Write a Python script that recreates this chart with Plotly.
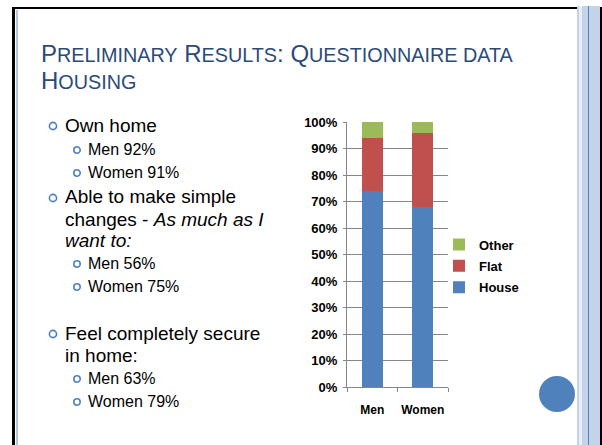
import plotly.graph_objects as go

W, H = 602, 445

# ---- data ----
categories = ["Men", "Women"]
house = [74, 68]
flat = [20, 28]
other = [6, 4]
series_names = ["House", "Flat", "Other"]
series_colors = ["#4F81BD", "#C0504D", "#9BBB59"]
legend_ranks = [3, 2, 1]
y_tick_vals = [0, 10, 20, 30, 40, 50, 60, 70, 80, 90, 100]
y_tick_text = ["0%", "10%", "20%", "30%", "40%", "50%", "60%", "70%", "80%", "90%", "100%"]

SC = "<span style='font-size:19.8px'>%s</span>"
title_lines = [
    "P" + SC % "RELIMINARY" + " R" + SC % "ESULTS" + ": Q" + SC % "UESTIONNAIRE DATA",
    "H" + SC % "OUSING",
]
bullets = [
    (1, "Own home", 125),
    (2, "Men 92%", 149),
    (2, "Women 91%", 172),
    (1, "Able to make simple", 197),
    (0, "changes - <i>As much as I</i>", 219),
    (0, "<i>want to:</i>", 240),
    (2, "Men 56%", 263),
    (2, "Women 75%", 286),
    (1, "Feel completely secure", 333),
    (0, "in home:", 355),
    (2, "Men 63%", 378),
    (2, "Women 79%", 401),
]


def px(x):
    return x / W


def py(y):
    return 1 - y / H


FONT = "Liberation Sans, Arial, sans-serif"

fig = go.Figure()
for name, vals, col, rk in zip(series_names, [house, flat, other], series_colors, legend_ranks):
    fig.add_trace(go.Bar(x=categories, y=vals, name=name, marker_color=col,
                         marker_line_width=0, legendgroup=name, legendrank=rk))

grid = "#868686"
fig.update_layout(
    width=W, height=H,
    margin=dict(l=0, r=0, t=0, b=0, pad=0, autoexpand=False),
    paper_bgcolor="white", plot_bgcolor="white",
    barmode="stack", bargap=0.58,
    font=dict(family=FONT, color="black"),
    xaxis=dict(domain=[px(347), px(448)], showline=True, linecolor=grid, linewidth=1,
               ticks="outside", tickson="boundaries", ticklen=4, tickcolor=grid,
               tickangle=0, ticklabelstandoff=12, automargin=False,
               tickfont=dict(size=12, color="black", weight="bold"), showgrid=False,
               fixedrange=True),
    yaxis=dict(domain=[py(387), py(122)], range=[0, 100], tickmode="array",
               tickvals=y_tick_vals, ticktext=y_tick_text, automargin=False,
               showline=True, linecolor=grid, linewidth=1,
               showgrid=True, gridcolor=grid, gridwidth=1,
               ticks="outside", ticklen=3, tickcolor=grid, ticklabelstandoff=3,
               tickfont=dict(size=13, color="black", weight="bold"), zeroline=False,
               fixedrange=True),
    legend=dict(x=px(439), y=py(229.5), xanchor="left", yanchor="top",
                traceorder="grouped", tracegroupgap=1.5,
                font=dict(size=13, color="black", weight="bold"), bgcolor="rgba(0,0,0,0)"),
    showlegend=True,
)

shapes = []
# slide frame
shapes.append(dict(type="line", xref="paper", yref="paper", x0=px(12), x1=px(601), y0=py(8), y1=py(8),
                   line=dict(color="black", width=2)))
shapes.append(dict(type="line", xref="paper", yref="paper", x0=px(13.5), x1=px(13.5), y0=py(7), y1=py(445),
                   line=dict(color="black", width=3)))
shapes.append(dict(type="line", xref="paper", yref="paper", x0=px(17), x1=px(17), y0=py(10), y1=py(445),
                   line=dict(color="#B3C6E3", width=2)))
shapes.append(dict(type="rect", xref="paper", yref="paper", x0=px(577), x1=px(600), y0=py(6), y1=py(445),
                   fillcolor="#C5D3E9", line=dict(width=0)))
shapes.append(dict(type="rect", xref="paper", yref="paper", x0=px(579), x1=px(582), y0=py(6), y1=py(445),
                   fillcolor="#E8EEF7", line=dict(width=0)))
shapes.append(dict(type="line", xref="paper", yref="paper", x0=px(588.5), x1=px(588.5), y0=py(6), y1=py(445),
                   line=dict(color="#4F81BD", width=1)))
shapes.append(dict(type="line", xref="paper", yref="paper", x0=px(601), x1=px(601), y0=py(7), y1=py(445),
                   line=dict(color="black", width=2)))
# decorative circle
shapes.append(dict(type="circle", xref="paper", yref="paper", x0=px(539), x1=px(575), y0=py(376), y1=py(412),
                   fillcolor="#4F81BD", line=dict(width=0)))

annotations = []
# title
for i, t in enumerate(title_lines):
    annotations.append(dict(text=t, xref="paper", yref="paper", x=px(39), y=py(53 + 28 * i),
                            xanchor="left", yanchor="middle", showarrow=False,
                            font=dict(family=FONT, size=24, color="#2B4A7A")))
# bullets
for lvl, t, yc in bullets:
    if lvl == 2:
        cx, r, tx, fs = 77, 3.2, 89, 16
    else:
        cx, r, tx, fs = 53, 3.6, 66, 19
    if lvl > 0:
        shapes.append(dict(type="circle", xref="paper", yref="paper",
                           x0=px(cx - r), x1=px(cx + r), y0=py(yc + 1 - r), y1=py(yc + 1 + r),
                           line=dict(color="#4F81BD", width=1.6), fillcolor="rgba(0,0,0,0)"))
    annotations.append(dict(text=t, xref="paper", yref="paper", x=px(tx - 3), y=py(yc),
                            xanchor="left", yanchor="middle", showarrow=False,
                            font=dict(family=FONT, size=fs, color="black")))

fig.update_layout(shapes=shapes, annotations=annotations)
fig.write_html(
    "out.html",
    config={"displayModeBar": False},
    post_script=("var h=document.documentElement,b=document.body;"
                 "h.style.cssText='margin:0;padding:0;overflow:hidden;height:445px;width:602px';"
                 "b.style.cssText='margin:0;padding:0;overflow:hidden;height:445px;width:602px';"
                 "var g=document.querySelector('.plotly-graph-div');"
                 "if(g){g.style.position='fixed';g.style.top='0';g.style.left='0';}"),
)
